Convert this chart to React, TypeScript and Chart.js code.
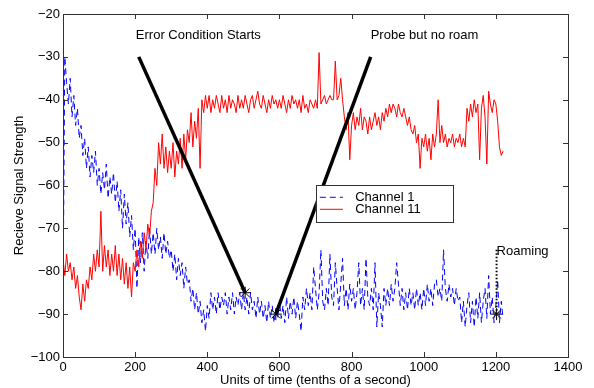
import React, { useEffect, useRef } from "react";
import { Chart, registerables } from "chart.js";
Chart.register(...registerables);

// sample spacing (tenths of a second) between the values below
const STEP = 5;

// Channel 1 (blue dashed), samples from t = 0 to 1220
const channel1 = [
  -88, -30, -36, -41, -35, -44, -39, -46, -42, -49,
  -46, -53, -49, -56, -51, -58, -53, -57, -52, -60,
  -56, -62, -57, -61, -55, -63, -58, -62, -57, -64,
  -59, -66, -61, -70, -62, -69, -64, -72, -67, -75,
  -70, -84, -72, -78, -71, -80, -73, -77, -70, -76,
  -71, -76, -70, -75, -72, -77, -71, -76, -73, -77,
  -75, -80, -76, -82, -77, -81, -78, -84, -79, -83,
  -82, -87, -84, -89, -85, -90, -87, -92, -89, -94,
  -88, -91, -85, -89, -86, -90, -85, -89, -86, -88,
  -85, -90, -86, -89, -85, -90, -86, -88, -85, -89,
  -85, -89, -86, -90, -85, -89, -87, -91, -86, -90,
  -87, -91, -88, -92, -87, -91, -88, -92, -89, -91,
  -87, -91, -88, -92, -86, -91, -87, -90, -86, -91,
  -87, -90, -94, -86, -89, -84, -88, -85, -89, -79,
  -84, -89, -85, -75, -87, -89, -84, -88, -76, -86,
  -88, -78, -84, -89, -83, -77, -88, -84, -89, -83,
  -87, -84, -89, -85, -78, -88, -84, -89, -77, -86,
  -88, -84, -89, -78, -93, -85, -88, -93, -84, -88,
  -84, -88, -83, -87, -84, -78, -83, -88, -84, -89,
  -85, -89, -84, -88, -85, -89, -84, -88, -85, -89,
  -84, -88, -83, -87, -84, -88, -83, -82, -86, -84,
  -87, -75, -84, -87, -83, -86, -84, -88, -84, -87,
  -86, -92, -87, -93, -88, -85, -92, -87, -93, -86,
  -91, -85, -92, -87, -84, -91, -81, -90, -86, -92,
  -88, -82, -92, -87, -91,
];

// Channel 11 (red solid), samples from t = 0 to 1220
const channel11 = [
  -77, -81, -76, -80, -78, -82, -79, -84, -81, -86,
  -89, -83, -87, -82, -84, -79, -82, -76, -80, -75,
  -79, -66, -80, -74, -79, -75, -81, -76, -80, -74,
  -81, -76, -82, -77, -83, -78, -84, -79, -86, -78,
  -80, -75, -79, -73, -77, -71, -75, -69, -72, -66,
  -64, -56, -60, -50, -55, -48, -56, -51, -57, -52,
  -56, -50, -58, -52, -55, -49, -56, -48, -54, -47,
  -50, -43, -51, -45, -49, -42, -56, -40, -43, -39,
  -42, -39, -43, -40, -42, -39, -41, -43, -39, -42,
  -40, -43, -39, -42, -40, -41, -43, -39, -42, -40,
  -42, -39, -41, -43, -40, -39, -42, -40, -38, -41,
  -42, -39, -41, -43, -40, -42, -39, -41, -40, -42,
  -40, -42, -39, -41, -43, -40, -42, -39, -41, -40,
  -42, -40, -43, -39, -42, -41, -43, -40, -41, -42,
  -40, -42, -29, -41, -40, -39, -41, -40, -39, -40,
  -40, -31, -40, -39, -35, -40, -44, -47, -43, -54,
  -46, -43, -47, -44, -46, -42, -47, -44, -45, -48,
  -44, -47, -45, -43, -46, -44, -47, -43, -45, -42,
  -44, -41, -43, -41, -42, -44, -41, -43, -44, -42,
  -44, -46, -44, -47, -48, -46, -50, -48, -56, -49,
  -51, -48, -52, -49, -54, -48, -51, -48, -40, -50,
  -46, -50, -48, -51, -49, -50, -48, -51, -49, -50,
  -48, -51, -49, -51, -42, -45, -41, -44, -40, -43,
  -41, -54, -42, -39, -44, -55, -38, -41, -43, -40,
  -41, -45, -51, -53, -52,
];

// annotation geometry (data coordinates)
const errorLineX = [210, 505];
const errorLineY = [-30, -85];
const probeLineX = [590, 853];
const probeLineY = [-90, -30];
const roamLineX = [1202, 1202];
const roamLineY = [-75, -90];
const starX = [505, 590, 1202];
const starY = [-85, -90, -90];

const annotationTexts = ["Error Condition Starts", "Probe but no roam", "Roaming"];
const annotationX = [202, 853, 1202];
const annotationY = [-25, -25, -75.3];

const legendLabels = ["Channel 1", "Channel 11"];
const xTitle = "Units of time (tenths of a second)";
const yTitle = "Recieve Signal Strength";

const X_MIN = 0, X_MAX = 1400, X_STEP = 200;
const Y_MIN = -100, Y_MAX = -20, Y_STEP = 10;

const BLUE = "#0000ff";
const RED = "#ff0000";
const FONT = "'Liberation Sans', Arial, Helvetica, sans-serif";

const toPoints = (vals: number[]) => vals.map((v, i) => ({ x: i * STEP, y: v }));
const zipPts = (xs: number[], ys: number[]) => xs.map((x, i) => ({ x, y: ys[i] }));

const framePlugin = {
  id: "frame",
  afterDraw(chart: any) {
    const { ctx, chartArea: a, scales } = chart;
    const xs = scales.x, ys = scales.y;
    ctx.save();
    ctx.strokeStyle = "#333";
    ctx.lineWidth = 1;
    ctx.strokeRect(Math.round(a.left) + 0.5, Math.round(a.top) + 0.5, Math.round(a.right - a.left), Math.round(a.bottom - a.top));
    const tl = 5;
    ctx.beginPath();
    for (let v = X_MIN; v <= X_MAX; v += X_STEP) {
      const px = Math.round(xs.getPixelForValue(v)) + 0.5;
      ctx.moveTo(px, a.bottom); ctx.lineTo(px, a.bottom - tl);
      ctx.moveTo(px, a.top); ctx.lineTo(px, a.top + tl);
    }
    for (let v = Y_MIN; v <= Y_MAX; v += Y_STEP) {
      const py = Math.round(ys.getPixelForValue(v)) + 0.5;
      ctx.moveTo(a.left, py); ctx.lineTo(a.left + tl, py);
      ctx.moveTo(a.right, py); ctx.lineTo(a.right - tl, py);
    }
    ctx.stroke();
    ctx.restore();
  },
};

const annotPlugin = {
  id: "annot",
  afterDatasetsDraw(chart: any) {
    const { ctx, scales } = chart;
    const xs = scales.x, ys = scales.y;
    ctx.save();
    ctx.fillStyle = "#000";
    ctx.font = `13px ${FONT}`;
    ctx.textAlign = "left";
    ctx.textBaseline = "middle";
    annotationTexts.forEach((t, i) => {
      ctx.fillText(t, xs.getPixelForValue(annotationX[i]), ys.getPixelForValue(annotationY[i]));
    });
    // legend box
    const l = xs.getPixelForValue(701), r = xs.getPixelForValue(1081);
    const t = ys.getPixelForValue(-59.9), b = ys.getPixelForValue(-68.5);
    ctx.fillStyle = "#fff";
    ctx.fillRect(l, t, r - l, b - t);
    ctx.strokeStyle = "#333";
    ctx.lineWidth = 1;
    ctx.strokeRect(Math.round(l) + 0.5, Math.round(t) + 0.5, Math.round(r - l), Math.round(b - t));
    const rows = [ys.getPixelForValue(-62.75), ys.getPixelForValue(-65.55)];
    const ls = xs.getPixelForValue(712), le = xs.getPixelForValue(776), tx = xs.getPixelForValue(810);
    ctx.lineWidth = 1;
    ctx.strokeStyle = BLUE;
    ctx.setLineDash([6, 4]);
    ctx.beginPath(); ctx.moveTo(ls, rows[0]); ctx.lineTo(le, rows[0]); ctx.stroke();
    ctx.setLineDash([]);
    ctx.strokeStyle = RED;
    ctx.beginPath(); ctx.moveTo(ls, rows[1]); ctx.lineTo(le, rows[1]); ctx.stroke();
    ctx.fillStyle = "#000";
    ctx.fillText(legendLabels[0], tx, rows[0]);
    ctx.fillText(legendLabels[1], tx, rows[1]);
    ctx.restore();
  },
};

export default function App() {
  const ref = useRef<HTMLCanvasElement | null>(null);
  useEffect(() => {
    if (!ref.current) return;
    const chart = new Chart(ref.current, {
      type: "line",
      data: {
        datasets: [
          {
            type: "scatter",
            data: zipPts(starX, starY),
            pointStyle: "star",
            pointRadius: 6,
            borderColor: "#000",
            backgroundColor: "#000",
            borderWidth: 1,
            showLine: false,
          } as any,
          {
            data: zipPts(roamLineX, roamLineY),
            borderColor: "#000",
            borderWidth: 2,
            borderDash: [1.5, 2],
            pointRadius: 0,
          },
          {
            data: zipPts(errorLineX, errorLineY),
            borderColor: "#000",
            borderWidth: 3.5,
            pointRadius: 0,
          },
          {
            data: zipPts(probeLineX, probeLineY),
            borderColor: "#000",
            borderWidth: 3.5,
            pointRadius: 0,
          },
          {
            label: legendLabels[1],
            data: toPoints(channel11),
            borderColor: RED,
            borderWidth: 1,
            pointRadius: 0,
            tension: 0,
          },
          {
            label: legendLabels[0],
            data: toPoints(channel1),
            borderColor: BLUE,
            borderWidth: 1,
            borderDash: [6, 4],
            pointRadius: 0,
            tension: 0,
          },
        ],
      },
      options: {
        responsive: false,
        animation: false,
        devicePixelRatio: 1,
        layout: { padding: { left: 0, right: 26, top: 14, bottom: 0 } },
        plugins: { legend: { display: false }, tooltip: { enabled: false } },
        scales: {
          x: {
            type: "linear",
            min: X_MIN,
            max: X_MAX,
            ticks: {
              stepSize: X_STEP,
              color: "#000",
              font: { family: FONT, size: 13 },
              padding: 3,
              maxRotation: 0,
              callback: (v: any) => String(v),
            },
            grid: { display: false, drawTicks: false },
            border: { display: false },
            title: { display: true, text: xTitle, color: "#000", font: { family: FONT, size: 13 }, padding: { top: 0, bottom: 0 } },
            afterFit: (s: any) => { s.height = 31; },
          },
          y: {
            type: "linear",
            min: Y_MIN,
            max: Y_MAX,
            ticks: {
              stepSize: Y_STEP,
              color: "#000",
              font: { family: FONT, size: 13 },
              padding: 3,
              callback: (v: any) => (Number(v) < 0 ? "\u2212" + Math.abs(Number(v)) : String(v)),
            },
            grid: { display: false, drawTicks: false },
            border: { display: false },
            title: { display: true, text: yTitle, color: "#000", font: { family: FONT, size: 13 }, padding: { top: 12, bottom: 0 } },
            afterFit: (s: any) => { s.width = 63; },
          },
        },
      },
      plugins: [framePlugin, annotPlugin],
    } as any);
    return () => chart.destroy();
  }, []);
  return (
    <div style={{ position: "absolute", left: 0, top: 0, width: 594, height: 388, background: "#fff" }}>
      <canvas ref={ref} width={594} height={388} />
    </div>
  );
}
